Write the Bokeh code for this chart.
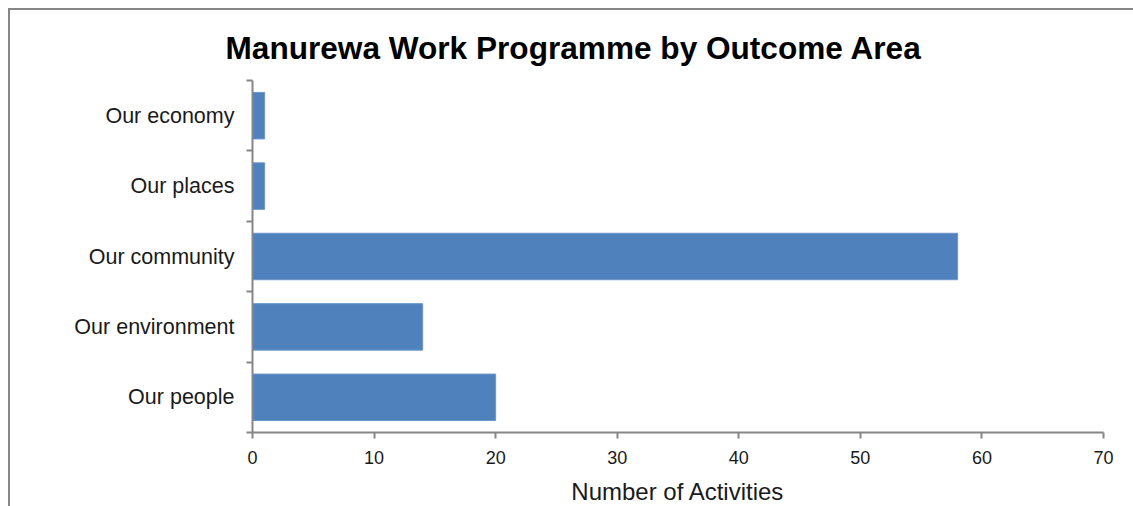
from bokeh.plotting import figure
from bokeh.models import ColumnDataSource, FixedTicker, Range1d
from bokeh.embed import file_html
from bokeh.resources import INLINE

# Data (bottom to top)
categories = ["Our people", "Our environment", "Our community", "Our places", "Our economy"]
activities = [20, 14, 58, 1, 1]
x_ticks = [0, 10, 20, 30, 40, 50, 60, 70]
title_text = "Manurewa Work Programme by Outcome Area"
x_label = "Number of Activities"

positions = [i + 0.5 for i in range(len(categories))]
boundaries = list(range(len(categories) + 1))
src = ColumnDataSource(dict(y=positions, right=activities, cat=categories))

FONT = "Liberation Sans"
AXIS_COLOR = "#868686"
TEXT_COLOR = "#1a1a1a"

p = figure(width=1125, height=498, output_backend="svg", toolbar_location=None,
           x_range=Range1d(0, x_ticks[-1]), y_range=Range1d(0, len(categories)),
           min_border_left=242, min_border_right=32, min_border_top=70,
           min_border_bottom=76, title=title_text)
p.styles = {"border-top": "2px solid #878787", "border-left": "2px solid #878787",
            "margin-top": "8px", "margin-left": "8px"}

p.hbar(y="y", right="right", left=0, height=0.66, source=src,
       fill_color="#4F81BD", line_color="#6A96CB", line_width=1)

p.title.text_font = FONT
p.title.text_font_size = "31.6px"
p.title.text_font_style = "bold"
p.title.text_color = "#000000"
p.title.align = "left"
p.title.offset = -27
p.title.standoff = 30

p.xgrid.visible = False
p.ygrid.visible = False
p.outline_line_color = None
p.background_fill_color = "white"
p.border_fill_color = "white"

xa = p.xaxis[0]
xa.ticker = FixedTicker(ticks=x_ticks, minor_ticks=[])
xa.axis_line_color = AXIS_COLOR
xa.axis_line_width = 2
xa.major_tick_line_color = AXIS_COLOR
xa.major_tick_line_width = 2
xa.major_tick_in = 0
xa.major_tick_out = 6
xa.minor_tick_line_color = None
xa.major_label_text_font = FONT
xa.major_label_text_font_size = "18px"
xa.major_label_text_color = TEXT_COLOR
xa.major_label_standoff = 12
xa.axis_label = x_label
xa.axis_label_text_font = FONT
xa.axis_label_text_font_size = "24px"
xa.axis_label_text_font_style = "normal"
xa.axis_label_text_color = TEXT_COLOR
xa.axis_label_standoff = 11

ya = p.yaxis[0]
ya.ticker = FixedTicker(ticks=positions, minor_ticks=boundaries)
ya.major_label_overrides = {pos: cat for pos, cat in zip(positions, categories)}
ya.axis_line_color = AXIS_COLOR
ya.axis_line_width = 2
ya.major_tick_line_color = None
ya.major_tick_in = 0
ya.major_tick_out = 0
ya.minor_tick_line_color = AXIS_COLOR
ya.minor_tick_line_width = 2
ya.minor_tick_in = 0
ya.minor_tick_out = 6
ya.major_label_text_font = FONT
ya.major_label_text_font_size = "21.5px"
ya.major_label_text_color = TEXT_COLOR
ya.major_label_standoff = 12

open("out.html", "w").write(file_html(p, INLINE))
